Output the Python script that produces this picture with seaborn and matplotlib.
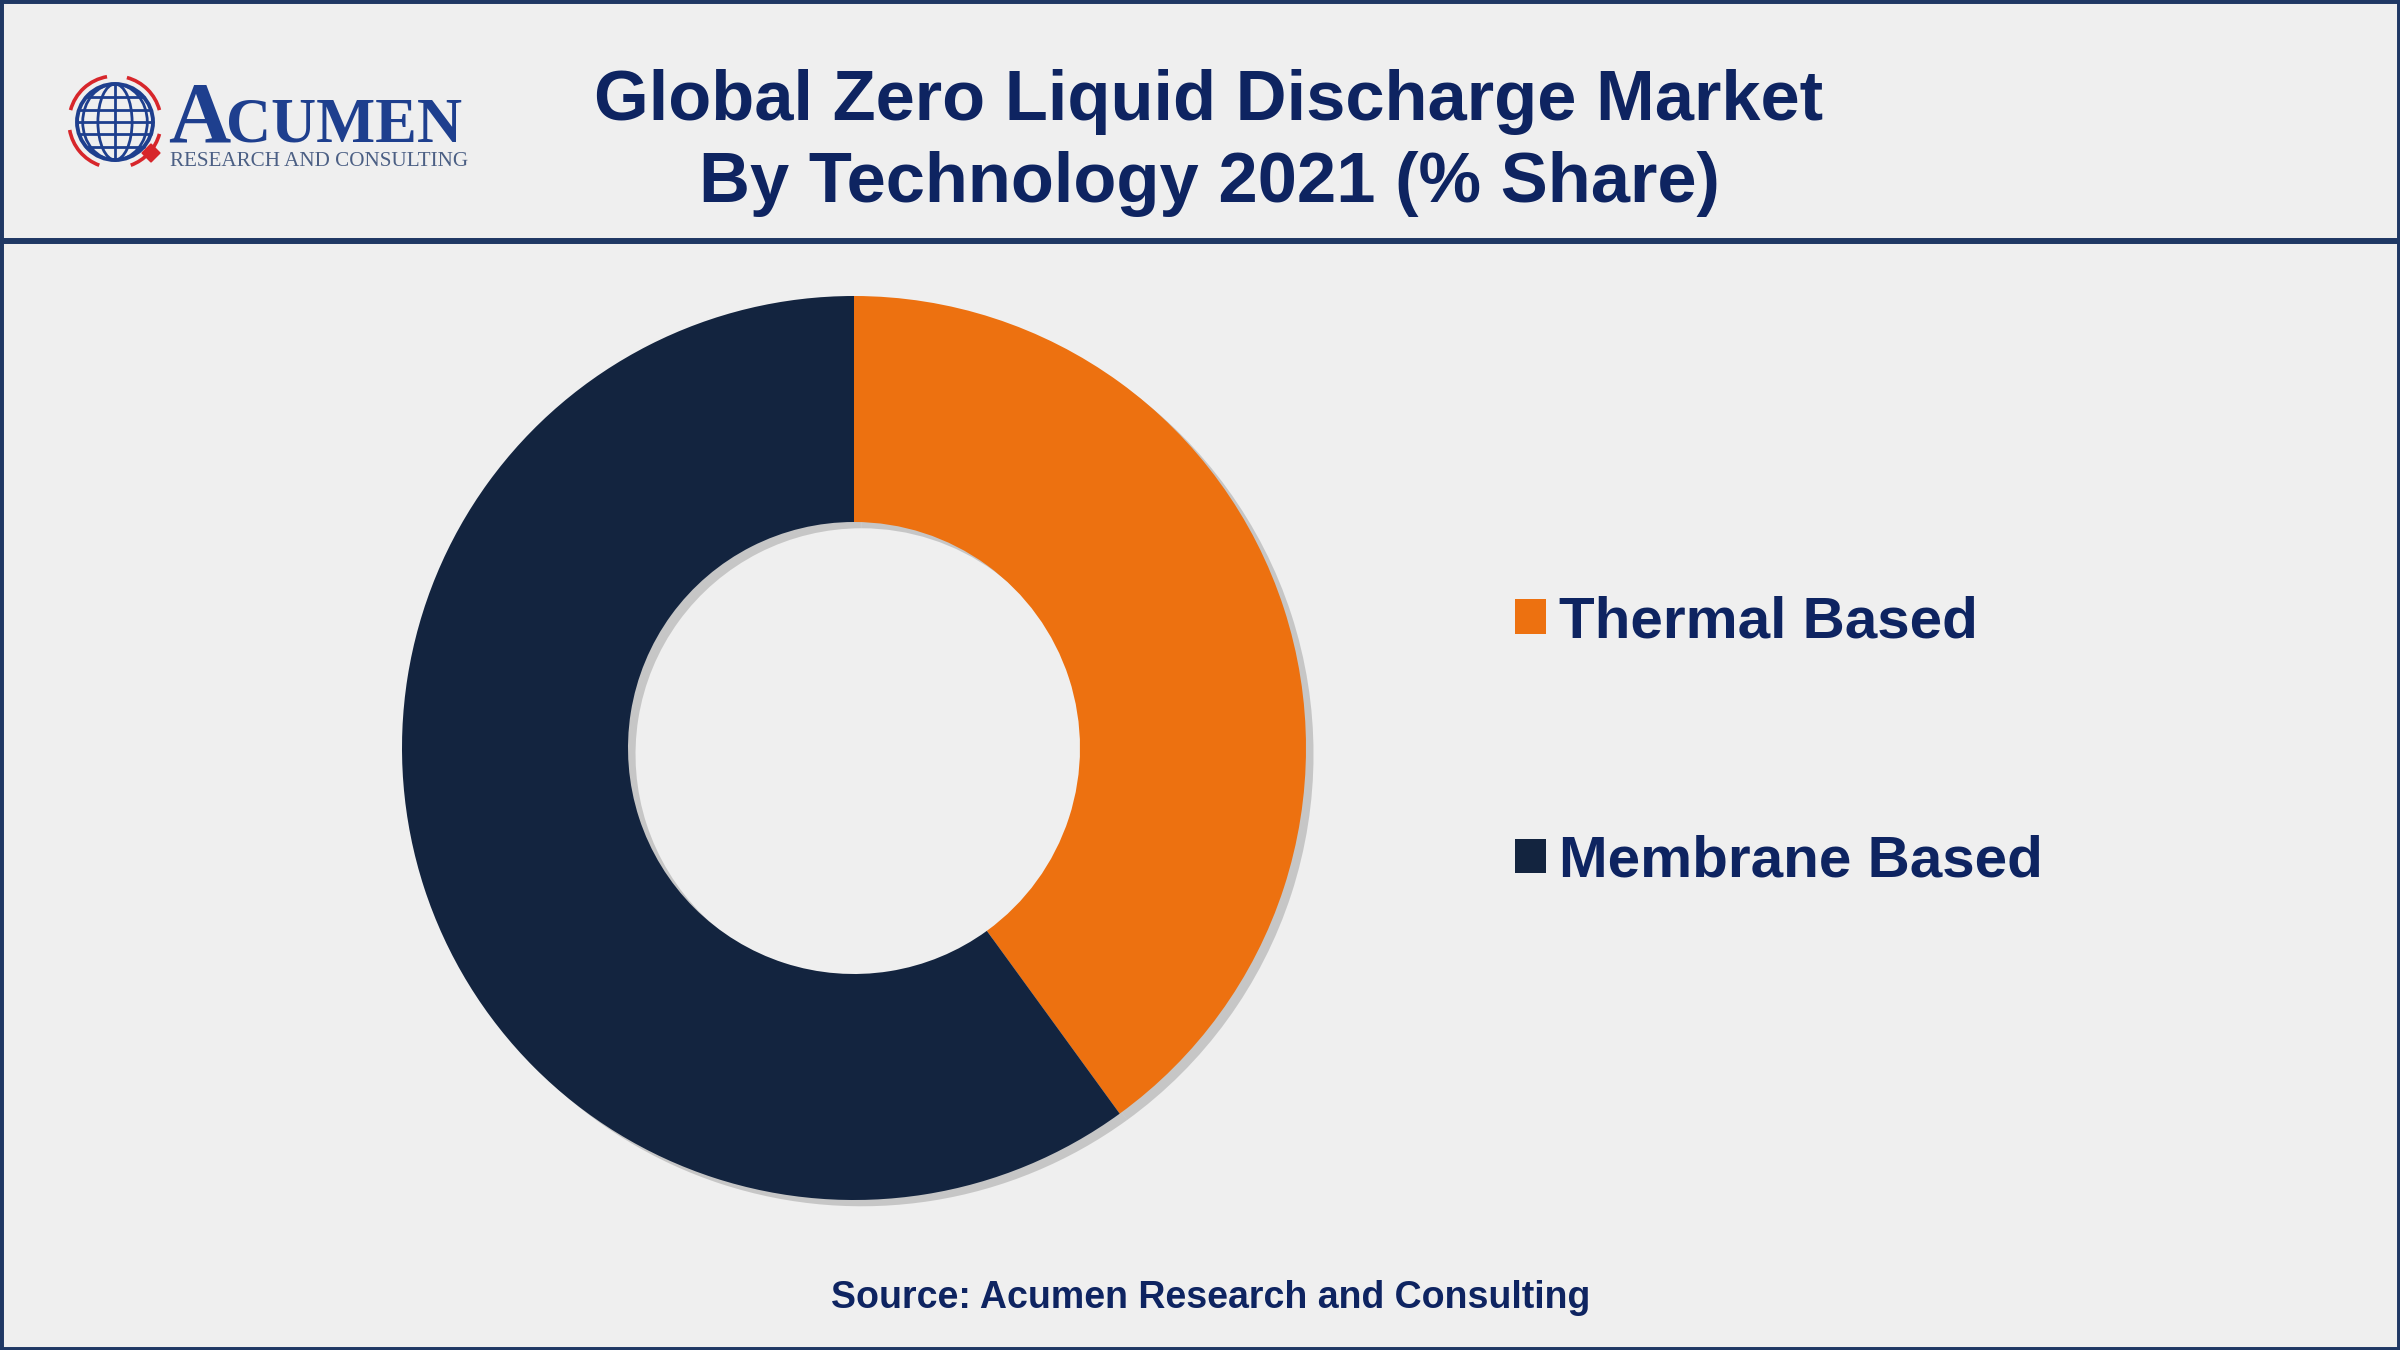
import numpy as np
import matplotlib
matplotlib.use("Agg")
import matplotlib.pyplot as plt
import matplotlib.patches as mpatches
from matplotlib.lines import Line2D
import seaborn as sns

# data
technologies = ["Thermal Based", "Membrane Based"]
shares = [40, 60]
slice_colors = ["#ED7110", "#13243F"]

title_lines = ["Global Zero Liquid Discharge Market", "By Technology 2021 (% Share)"]
source_text = "Source: Acumen Research and Consulting"

BG = "#EFEFEF"
NAVY_TXT = "#0E2461"
BORDER = "#1F3864"

sns.set_theme(style="white", rc={"figure.facecolor": BG, "axes.facecolor": BG,
                                 "savefig.facecolor": BG})
plt.rcParams["font.family"] = ["Liberation Sans", "DejaVu Sans"]

W, H = 2400, 1350
fig = plt.figure(figsize=(24, 13.5), dpi=100)


def fx(px):
    return px / W


def fy(py):
    return 1 - py / H


# donut
cx, cy, r = 854, 748, 452
half = r * 1.25
ax = fig.add_axes([fx(cx - half), fy(cy + half), 2 * half / W, 2 * half / H])
wedges, _ = ax.pie(shares, colors=slice_colors, startangle=90, counterclock=False,
                   radius=1, wedgeprops=dict(width=0.5, linewidth=0),
                   shadow=dict(ox=0.012, oy=-0.010, facecolor="#8A8A8A",
                               edgecolor="none", alpha=0.4))
ax.set_xlim(-1.25, 1.25)
ax.set_ylim(-1.25, 1.25)
ax.set_aspect("equal")
ax.axis("off")

# legend
fs = 42
fig.legend(wedges, technologies, loc="upper left",
           bbox_to_anchor=(fx(1515), fy(595)), bbox_transform=fig.transFigure,
           frameon=False, prop=dict(weight="bold", size=fs),
           labelcolor=NAVY_TXT, handlelength=0.53, handleheight=0.53,
           handletextpad=0.22, labelspacing=3.18, borderpad=0, borderaxespad=0)

# title and source
fig.text(fx(1209), fy(120), title_lines[0], ha="center", va="baseline",
         fontsize=50.8, fontweight="bold", color=NAVY_TXT)
fig.text(fx(1209), fy(202), title_lines[1], ha="center", va="baseline",
         fontsize=50.8, fontweight="bold", color=NAVY_TXT)
fig.text(fx(1211), fy(1308), source_text, ha="center", va="baseline",
         fontsize=27, fontweight="bold", color=NAVY_TXT)

# logo
fig.text(fx(168), fy(142), "A", ha="left", va="baseline", fontsize=62,
         family="Liberation Serif", fontweight="bold", color="#1E3F8E")
fig.text(fx(226), fy(142), "CUMEN", ha="left", va="baseline", fontsize=45,
         family="Liberation Serif", fontweight="bold", color="#1E3F8E")
fig.text(fx(170), fy(166), "RESEARCH AND CONSULTING", ha="left", va="baseline",
         fontsize=15.2, family="Liberation Serif", color="#4B5F84")

lax = fig.add_axes([fx(115 - 55), fy(122 + 55), 110 / W, 110 / H])
lax.set_xlim(-55, 55)
lax.set_ylim(-55, 55)
lax.set_aspect("equal")
lax.axis("off")
gr = 38
globe = "#1E3F8E"
lax.add_patch(mpatches.Circle((0, 0), gr, fill=False, lw=2.8, color=globe))
for wfrac in [0.45, 0.85]:
    lax.add_patch(mpatches.Ellipse((0, 0), 2 * gr * wfrac, 2 * gr, fill=False,
                                   lw=2, color=globe))
lax.plot([0, 0], [-gr, gr], color=globe, lw=2)
for yy in [-25, -12, 0, 12, 25]:
    hw = np.sqrt(gr ** 2 - yy ** 2)
    lax.plot([-hw, hw], [yy, yy], color=globe, lw=2)
for t1, t2 in [(100, 165), (190, 250), (290, 345), (15, 75)]:
    lax.add_patch(mpatches.Arc((0, 0), 2 * 46, 2 * 46, theta1=t1, theta2=t2,
                               lw=2.6, color="#D7262B"))
lax.add_patch(mpatches.RegularPolygon((36, -31), 4, radius=9, color="#D7262B"))

# frame lines
fig.patches.append(mpatches.Rectangle((0, 0), 1, 1, transform=fig.transFigure,
                                      fill=False, lw=5, edgecolor=BORDER))
fig.lines.append(Line2D([0, 1], [fy(241), fy(241)], transform=fig.transFigure,
                        lw=4.3, color=BORDER))

fig.savefig("out.png", dpi=100)
